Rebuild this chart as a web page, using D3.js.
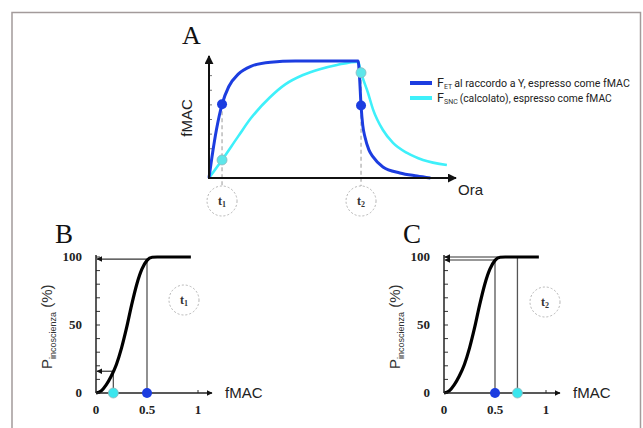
<!DOCTYPE html>
<html>
<head>
<meta charset="utf-8">
<script src="https://cdn.jsdelivr.net/npm/d3@7"></script>
<style>
  body { margin: 0; background: #fff; }
  svg { display: block; }
</style>
</head>
<body>
<svg id="chart" width="643" height="428"></svg>
<script>
// Panel A: time course (time 0..100, fMAC 0..1)
var blueT = [0, 1.5, 3, 5.3, 8, 12, 17, 25, 35, 60.6, 61.2, 61.8, 62.5, 63.4, 65, 66.7, 70.7, 77.6, 84.6, 90];
var blueY = [0, 0.22, 0.41, 0.63, 0.78, 0.89, 0.955, 0.99, 1, 1, 0.86, 0.62, 0.45, 0.35, 0.24, 0.18, 0.094, 0.043, 0.017, 0];
var cyanT = [0, 5.3, 12, 17, 24.8, 31, 38.2, 45, 52, 60.6, 61.8, 64.6, 66.7, 70.7, 74.8, 80.5, 87, 96.7];
var cyanY = [0, 0.154, 0.36, 0.51, 0.69, 0.8, 0.88, 0.93, 0.966, 0.995, 0.9, 0.73, 0.585, 0.41, 0.3, 0.214, 0.154, 0.111];
var tMarks = [5.3, 61.8];
var tNames = ['1', '2'];
var blueAtT = [0.63, 0.62];
var cyanAtT = [0.154, 0.9];
var legendLabels = [
  {sub: 'ET', text: 'al raccordo a Y, espresso come fMAC'},
  {sub: 'SNC', text: '(calcolato), espresso come fMAC'}
];

// Panels B and C: probability of unconsciousness vs fMAC
var sigX = [0, 0.05, 0.1, 0.15, 0.2, 0.25, 0.3, 0.35, 0.4, 0.45, 0.5, 0.55, 0.6, 0.93];
var sigY = [0, 1.5, 6, 12.5, 21, 33, 48, 65, 80, 91, 97.5, 99.8, 100, 100];
var pTicks = [0, 50, 100];
var fTicks = [0, 0.5, 1];
var bDotX = [0.17, 0.5];
var bHitY = [16, 98.5];
var cDotX = [0.5, 0.72];
var cHitY = [97.8, 100];

var BLUE = '#1c3de0', CYAN = '#3ef0fa';
var svg = d3.select('#chart');

// frame
svg.append('rect').attr('x', 12).attr('y', 12.5).attr('width', 628.5).attr('height', 430)
  .attr('fill', 'none').attr('stroke', '#a39b9b').attr('stroke-width', 1.5);

var defs = svg.append('defs');
function arrowMarker(id, size) {
  defs.append('marker').attr('id', id)
    .attr('viewBox', '0 0 10 10').attr('refX', 9).attr('refY', 5)
    .attr('markerWidth', size).attr('markerHeight', size)
    .attr('markerUnits', 'userSpaceOnUse').attr('orient', 'auto')
    .append('path').attr('d', 'M0,0L10,5L0,10Z').attr('fill', '#111');
}
arrowMarker('arrA', 9);
arrowMarker('arrS', 6);

// ---------- Panel A ----------
var xA = d3.scaleLinear().domain([0, 100]).range([209, 455]);
var yA = d3.scaleLinear().domain([0, 1]).range([178, 61]);
var gA = svg.append('g');

gA.append('text').attr('x', 182).attr('y', 44).attr('font-family', 'Liberation Serif, serif')
  .attr('font-size', 26).attr('fill', '#111').text('A');

// inner ticks
gA.selectAll('.tk').data(d3.range(1, 8)).enter().append('line')
  .attr('x1', 209).attr('x2', 212).attr('y1', function(d) { return yA(d / 8); })
  .attr('y2', function(d) { return yA(d / 8); }).attr('stroke', '#777').attr('stroke-width', 1);

// dashed guides + circles
tMarks.forEach(function(t, i) {
  var top = Math.min(yA(blueAtT[i]), yA(cyanAtT[i]));
  gA.append('line').attr('x1', xA(t)).attr('x2', xA(t)).attr('y1', top).attr('y2', 186)
    .attr('stroke', '#aaa').attr('stroke-width', 1.2).attr('stroke-dasharray', '4,3');
  gA.append('circle').attr('cx', xA(t)).attr('cy', 201).attr('r', 15)
    .attr('fill', 'none').attr('stroke', '#b5b5b5').attr('stroke-width', 1).attr('stroke-dasharray', '2,2');
  var tl = gA.append('text').attr('x', xA(t) - 4).attr('y', 205).attr('font-family', 'Liberation Serif, serif')
    .attr('font-weight', 'bold').attr('font-size', 12).attr('fill', '#333');
  tl.append('tspan').text('t');
  tl.append('tspan').attr('font-size', 8).attr('dy', 2).text(tNames[i]);
});

var lineA = d3.line().x(function(d) { return xA(d[0]); }).y(function(d) { return yA(d[1]); })
  .curve(d3.curveMonotoneX);
gA.append('path').datum(d3.zip(cyanT, cyanY)).attr('d', lineA)
  .attr('fill', 'none').attr('stroke', CYAN).attr('stroke-width', 2.6);
gA.append('path').datum(d3.zip(blueT, blueY)).attr('d', lineA)
  .attr('fill', 'none').attr('stroke', BLUE).attr('stroke-width', 3);

// axes
gA.append('line').attr('x1', 209).attr('y1', 178).attr('x2', 209).attr('y2', 56)
  .attr('stroke', '#111').attr('stroke-width', 2).attr('marker-end', 'url(#arrA)');
gA.append('line').attr('x1', 208).attr('y1', 178).attr('x2', 456).attr('y2', 178)
  .attr('stroke', '#111').attr('stroke-width', 2).attr('marker-end', 'url(#arrA)');

// dots
tMarks.forEach(function(t, i) {
  gA.append('circle').attr('cx', xA(t)).attr('cy', yA(blueAtT[i])).attr('r', 5).attr('fill', BLUE);
  gA.append('circle').attr('cx', xA(t)).attr('cy', yA(cyanAtT[i])).attr('r', 5)
    .attr('fill', '#5ee6ea').attr('stroke', '#8fb8bb').attr('stroke-width', 0.8);
});

gA.append('text').attr('transform', 'translate(192,118) rotate(-90)').attr('text-anchor', 'middle')
  .attr('font-family', 'Liberation Sans, Arial, sans-serif').attr('font-size', 15).attr('fill', '#222').text('fMAC');
gA.append('text').attr('x', 458).attr('y', 195)
  .attr('font-family', 'Liberation Sans, Arial, sans-serif').attr('font-size', 15).attr('fill', '#222').text('Ora');

// legend: fit each label into its width by adjusting font size
var legFont = 'Liberation Sans Narrow, Arial Narrow, Roboto, sans-serif';
legendLabels.forEach(function(d, i) {
  var y = 83 + i * 15;
  gA.append('line').attr('x1', 410).attr('x2', 432).attr('y1', y).attr('y2', y)
    .attr('stroke', i === 0 ? BLUE : CYAN).attr('stroke-width', 4);
  gA.append('text').attr('x', 437).attr('y', y + 4).attr('font-family', legFont)
    .attr('font-size', 12.5).attr('fill', '#222').text('F');
  var sub = gA.append('text').attr('x', 444).attr('y', y + 6).attr('font-family', legFont)
    .attr('font-size', 7).attr('fill', '#333').text(d.sub);
  var subW = sub.node().getComputedTextLength();
  var main = gA.append('text').attr('x', 444 + subW + 2).attr('y', y + 4).attr('font-family', legFont)
    .attr('font-size', 12.5).attr('fill', '#222').text(d.text);
  var w = main.node().getComputedTextLength();
  var target = (i === 0 ? 630 : 612) - (444 + subW + 2);
  if (w > target) main.attr('font-size', 12.5 * target / w);
});

// ---------- Panels B and C ----------
function probPanel(x0, letter, tName, dotX, hitY, circle) {
  var x = d3.scaleLinear().domain([0, 1]).range([x0, x0 + 102]);
  var y = d3.scaleLinear().domain([0, 100]).range([393, 257]);
  var g = svg.append('g');

  g.append('text').attr('x', x0 - 41).attr('y', 243).attr('font-family', 'Liberation Serif, serif')
    .attr('font-size', 27).attr('fill', '#111').text(letter);

  // y ticks (inward)
  g.selectAll('.tk').data(d3.range(0, 101, 10)).enter().append('line')
    .attr('x1', x0).attr('x2', x0 + 4).attr('y1', function(d) { return y(d); })
    .attr('y2', function(d) { return y(d); }).attr('stroke', '#333').attr('stroke-width', 1);
  g.selectAll('.tkx').data([0.5, 1]).enter().append('line')
    .attr('x1', function(d) { return x(d); }).attr('x2', function(d) { return x(d); })
    .attr('y1', 393).attr('y2', 390).attr('stroke', '#333').attr('stroke-width', 1);

  // reference lines
  dotX.forEach(function(v, i) {
    g.append('line').attr('x1', x(v)).attr('x2', x(v)).attr('y1', 393).attr('y2', y(hitY[i]))
      .attr('stroke', '#555').attr('stroke-width', 1.3);
    g.append('line').attr('x1', x(v)).attr('x2', x0 + 1).attr('y1', y(hitY[i])).attr('y2', y(hitY[i]))
      .attr('stroke', '#333').attr('stroke-width', 1.2).attr('marker-end', 'url(#arrS)');
  });

  var line = d3.line().x(function(d) { return x(d[0]); }).y(function(d) { return y(d[1]); })
    .curve(d3.curveMonotoneX);
  g.append('path').datum(d3.zip(sigX, sigY)).attr('d', line)
    .attr('fill', 'none').attr('stroke', '#000').attr('stroke-width', 3.2);

  // axes
  g.append('line').attr('x1', x0).attr('x2', x0).attr('y1', 393).attr('y2', 255)
    .attr('stroke', '#222').attr('stroke-width', 1.5);
  g.append('line').attr('x1', x0).attr('x2', x0 + 116).attr('y1', 393).attr('y2', 393)
    .attr('stroke', '#222').attr('stroke-width', 1.5).attr('marker-end', 'url(#arrS)');

  g.selectAll('.yl').data(pTicks).enter().append('text')
    .attr('x', x0 - 14).attr('y', function(d) { return y(d) + 4; }).attr('text-anchor', 'end')
    .attr('font-family', 'Liberation Serif, serif').attr('font-weight', 'bold').attr('font-size', 13)
    .attr('fill', '#222').text(function(d) { return d; });
  g.selectAll('.xl').data(fTicks).enter().append('text')
    .attr('x', function(d) { return x(d); }).attr('y', 414).attr('text-anchor', 'middle')
    .attr('font-family', 'Liberation Serif, serif').attr('font-weight', 'bold').attr('font-size', 13)
    .attr('fill', '#222').text(function(d) { return d; });

  // dots: blue at 0.5, cyan elsewhere
  dotX.forEach(function(v) {
    var isBlue = v === 0.5;
    g.append('circle').attr('cx', x(v)).attr('cy', 393).attr('r', 5)
      .attr('fill', isBlue ? BLUE : '#3ae6ee').attr('stroke', isBlue ? 'none' : '#8fb8bb').attr('stroke-width', 0.8);
  });

  g.append('text').attr('x', x0 + 129).attr('y', 398)
    .attr('font-family', 'Liberation Sans, Arial, sans-serif').attr('font-size', 15).attr('fill', '#222').text('fMAC');

  var yl = g.append('text').attr('transform', 'translate(' + (x0 - 44) + ',369) rotate(-90)')
    .attr('font-family', 'Liberation Sans, Arial, sans-serif').attr('font-size', 15).attr('fill', '#333');
  yl.append('tspan').text('P');
  yl.append('tspan').attr('font-size', 9).attr('dy', 4).text('incoscienza');
  yl.append('tspan').attr('dy', -4).text(' (%)');

  g.append('circle').attr('cx', circle[0]).attr('cy', circle[1]).attr('r', 15)
    .attr('fill', 'none').attr('stroke', '#b5b5b5').attr('stroke-width', 1).attr('stroke-dasharray', '2,2');
  var tl = g.append('text').attr('x', circle[0] - 4).attr('y', circle[1] + 4).attr('font-family', 'Liberation Serif, serif')
    .attr('font-weight', 'bold').attr('font-size', 12).attr('fill', '#333');
  tl.append('tspan').text('t');
  tl.append('tspan').attr('font-size', 8).attr('dy', 2).text(tName);
}

probPanel(96, 'B', '1', bDotX, bHitY, [184, 300]);
probPanel(444, 'C', '2', cDotX, cHitY, [545, 302]);
</script>
</body>
</html>
